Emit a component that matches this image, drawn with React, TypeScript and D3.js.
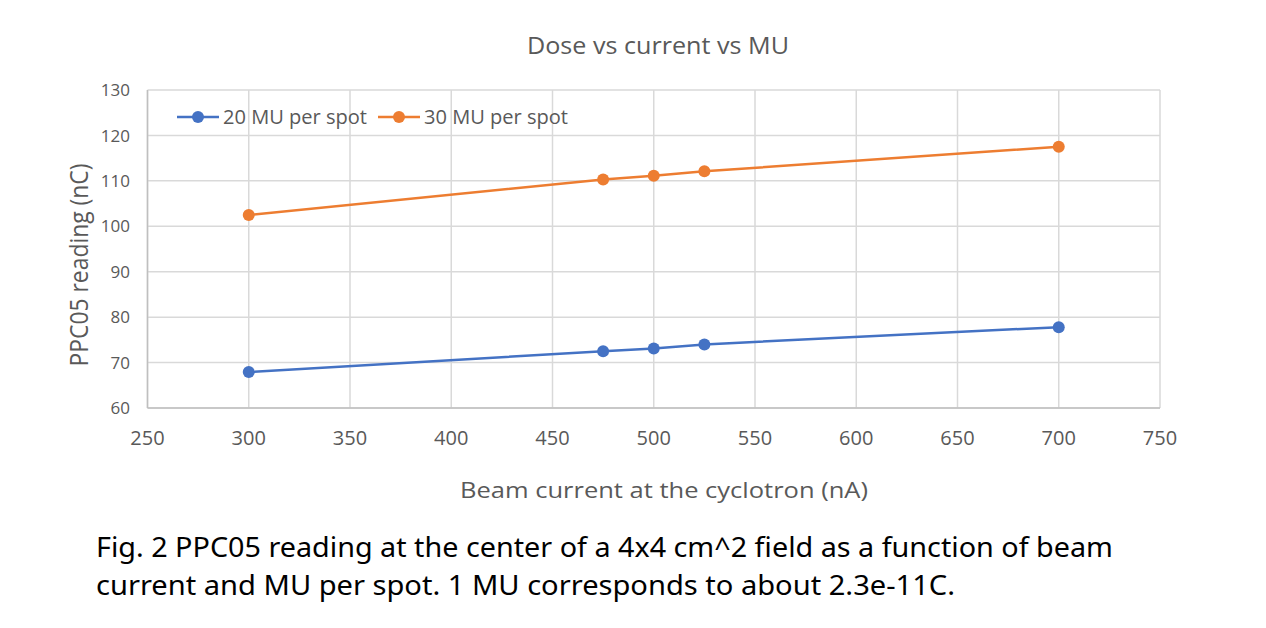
import React from "react";
import * as d3 from "d3";

const xValues = [300, 475, 500, 525, 700];
const mu20 = [67.9, 72.5, 73.1, 74.0, 77.8];
const mu30 = [102.5, 110.3, 111.1, 112.1, 117.5];
const seriesNames = ["20 MU per spot", "30 MU per spot"];
const xTicks = [250, 300, 350, 400, 450, 500, 550, 600, 650, 700, 750];
const yTicks = [60, 70, 80, 90, 100, 110, 120, 130];
const title = "Dose vs current vs MU";
const xTitle = "Beam current at the cyclotron (nA)";
const yTitle = "PPC05 reading (nC)";
const caption1 = "Fig. 2 PPC05 reading at the center of a 4x4 cm^2 field as a function of beam";
const caption2 = "current and MU per spot. 1 MU corresponds to about 2.3e-11C.";

const W = 1266;
const H = 628;
const left = 147.5, right = 1160, top = 90, bottom = 408;
const colors = ["#4472C4", "#ED7D31"];
const font = "'Open Sans', sans-serif";
const textColor = "#595959";

export default function App() {
  const x = d3.scaleLinear().domain([250, 750]).range([left, right]);
  const y = d3.scaleLinear().domain([60, 130]).range([bottom, top]);
  const line = d3.line<number>().x((_, i) => x(xValues[i])).y((d) => y(d));
  const series = [mu20, mu30];

  const legendX = [177, 378];

  return (
    <svg width={W} height={H} style={{ position: "absolute", left: 0, top: 0, background: "#fff" }}>
      <rect x={0} y={0} width={W} height={H} fill="#fff" />
      <text x={658} y={54} textAnchor="middle" fontFamily={font} fontSize={24} fill={textColor} textLength={262} lengthAdjust="spacingAndGlyphs">
        {title}
      </text>
      {/* grid */}
      {yTicks.map((t) => (
        <line key={"gy" + t} x1={left} x2={right} y1={y(t)} y2={y(t)} stroke="#D9D9D9" strokeWidth={1.5} />
      ))}
      {xTicks.map((t) => (
        <line key={"gx" + t} x1={x(t)} x2={x(t)} y1={top} y2={bottom} stroke="#D9D9D9" strokeWidth={1.5} />
      ))}
      {/* axes */}
      <line x1={left} x2={left} y1={top} y2={bottom} stroke="#BFBFBF" strokeWidth={1.5} />
      <line x1={left} x2={right} y1={bottom} y2={bottom} stroke="#BFBFBF" strokeWidth={1.5} />
      {yTicks.map((t) => (
        <text key={"ty" + t} x={130} y={y(t)} dy="0.36em" textAnchor="end" fontFamily={font} fontSize={17} fill={textColor}>
          {t}
        </text>
      ))}
      {xTicks.map((t) => (
        <text key={"tx" + t} x={x(t)} y={445} textAnchor="middle" fontFamily={font} fontSize={20} fill={textColor}>
          {t}
        </text>
      ))}
      <text x={664} y={498} textAnchor="middle" fontFamily={font} fontSize={22} fill={textColor} textLength={408} lengthAdjust="spacingAndGlyphs">
        {xTitle}
      </text>
      <text transform="translate(88,265) rotate(-90)" textAnchor="middle" fontFamily={font} fontSize={26} fill={textColor} textLength={203} lengthAdjust="spacingAndGlyphs">
        {yTitle}
      </text>
      {/* series */}
      {series.map((s, si) => (
        <g key={"s" + si}>
          <path d={line(s) || ""} fill="none" stroke={colors[si]} strokeWidth={2.5} />
          {s.map((v, i) => (
            <circle key={i} cx={x(xValues[i])} cy={y(v)} r={6} fill={colors[si]} />
          ))}
        </g>
      ))}
      {/* legend */}
      {seriesNames.map((n, i) => (
        <g key={"l" + i}>
          <line x1={legendX[i]} x2={legendX[i] + 42} y1={117} y2={117} stroke={colors[i]} strokeWidth={2.5} />
          <circle cx={legendX[i] + 21} cy={117} r={6} fill={colors[i]} />
          <text x={legendX[i] + 46} y={124} fontFamily={font} fontSize={20} fill={textColor} textLength={144} lengthAdjust="spacingAndGlyphs">
            {n}
          </text>
        </g>
      ))}
      {/* caption */}
      <text x={96} y={557} fontFamily="'Noto Sans', sans-serif" fontSize={27} fill="#000" textLength={1017} lengthAdjust="spacingAndGlyphs">
        {caption1}
      </text>
      <text x={96} y={595} fontFamily="'Noto Sans', sans-serif" fontSize={27} fill="#000" textLength={859} lengthAdjust="spacingAndGlyphs">
        {caption2}
      </text>
    </svg>
  );
}
